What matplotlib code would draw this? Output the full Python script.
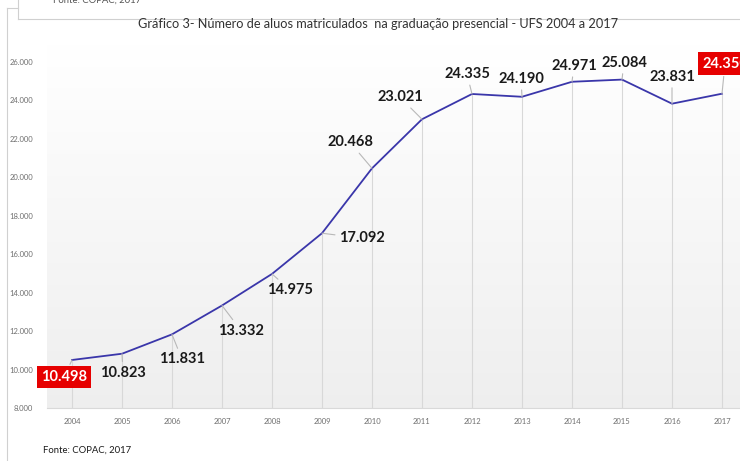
import numpy as np
import matplotlib
matplotlib.use("Agg")
import matplotlib.pyplot as plt
from matplotlib.lines import Line2D

plt.rcParams['font.family'] = ['Lato', 'DejaVu Sans']

# dados
anos = [2004, 2005, 2006, 2007, 2008, 2009, 2010, 2011, 2012, 2013, 2014, 2015, 2016, 2017]
alunos = [10498, 10823, 11831, 13332, 14975, 17092, 20468, 23021, 24335, 24190, 24971, 25084, 23831, 24350]
yticks = [8000, 10000, 12000, 14000, 16000, 18000, 20000, 22000, 24000, 26000]
destaque = [2004, 2017]
titulo = "Gráfico 3- Número de aluos matriculados  na graduação presencial - UFS 2004 a 2017"
fonte = "Fonte: COPAC, 2017"

# deslocamento dos rotulos (pixels)
offsets = [(-8, -17), (1, -19), (10, -25), (19, -25), (18, -16), (40, -5), (-22, 26),
           (-22, 22), (-5, 20), (-1, 18), (2, 16), (2, 17), (0, 27), (3, 30)]

W, H = 740, 461
fig = plt.figure(figsize=(W / 100, H / 100), dpi=100)
fig.patch.set_facecolor('white')

left, right, bottom, top = 47, 740, 408, 45
ax = fig.add_axes([left / W, (H - bottom) / H, (right - left) / W, (bottom - top) / H])

# fundo com gradiente
grad = np.linspace(1.0, 0.935, 256).reshape(-1, 1)
ax.imshow(np.dstack([grad, grad, grad]), extent=[0, 1, 0, 1], transform=ax.transAxes,
          aspect='auto', zorder=0)

ax.set_xlim(2003.5, 2004 + (740 - 72) / 50)
ax.set_ylim(8000, 8000 + (bottom - top) * 52.02)

ax.vlines(anos, 8000, alunos, color='#d8d8d8', lw=0.8, zorder=1)
ax.plot(anos, alunos, color='#3a36aa', lw=1.3, zorder=3)

for ano, v, (dx, dy) in zip(anos, alunos, offsets):
    txt = f"{v:,}".replace(',', '.')
    if ano in destaque:
        kw = dict(color='white', bbox=dict(boxstyle='square,pad=0.3', fc='#e60000', ec='none'))
    else:
        kw = dict(color='#1a1a1a')
    ax.annotate(txt, xy=(ano, v), xytext=(dx, dy), textcoords='offset pixels',
                ha='center', va='center', fontsize=10.5, fontweight='bold', zorder=5,
                annotation_clip=False,
                arrowprops=dict(arrowstyle='-', color='#b8b8b8', lw=0.8, shrinkA=1, shrinkB=0),
                **kw)

ax.set_xticks(anos)
ax.set_xticklabels([str(a) for a in anos])
ax.set_yticks(yticks)
ax.set_yticklabels([f"{t:,}".replace(',', '.') for t in yticks])
ax.tick_params(axis='y', length=0, pad=10, labelsize=5.5, labelcolor='#6f6f6f')
ax.tick_params(axis='x', length=0, pad=7, labelsize=5.5, labelcolor='#6f6f6f')
for s in ['top', 'right', 'left']:
    ax.spines[s].set_visible(False)
ax.spines['bottom'].set_color('#d9d9d9')
ax.spines['bottom'].set_linewidth(0.8)

# titulo e fonte
fig.text(378 / W, 1 - 24 / H, titulo, ha='center', va='center', fontsize=9.2, color='#333333')
fig.text(43 / W, 1 - 450 / H, fonte, ha='left', va='center', fontsize=6.8, color='#1a1a1a')
fig.text(53 / W, 1 - 0 / H, fonte, ha='left', va='center', fontsize=6.8, color='#555555')

# bordas do recorte
def px_line(xs, ys):
    fig.add_artist(Line2D([x / W for x in xs], [1 - y / H for y in ys],
                          transform=fig.transFigure, color='#d0d0d0', lw=0.8))

px_line([7, 7], [8, 461])
px_line([7, 18], [8, 8])
px_line([18, 18], [0, 19])
px_line([18, 740], [19, 19])

fig.savefig('out.png', dpi=100)
